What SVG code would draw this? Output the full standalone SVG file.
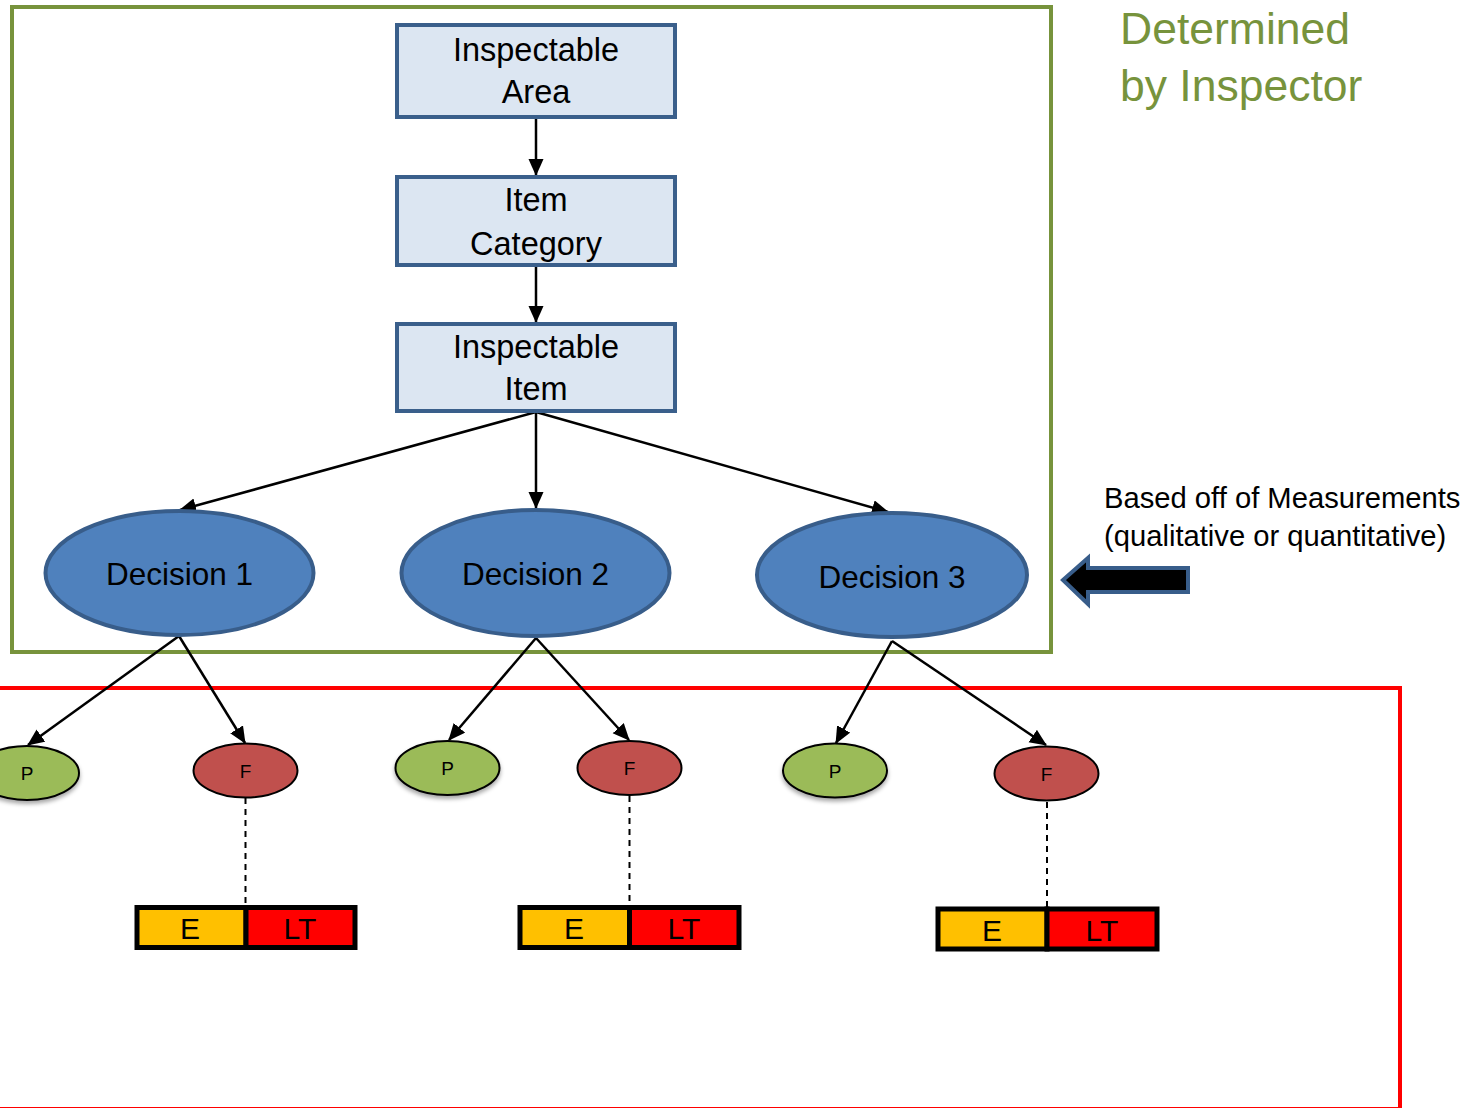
<svg xmlns="http://www.w3.org/2000/svg" width="1470" height="1108" viewBox="0 0 1470 1108">
<style>
text{font-family:"Liberation Sans",Arial,sans-serif;fill:#000;text-anchor:middle}
.box{fill:#DCE6F2;stroke:#3A5F8B;stroke-width:4}
.dec{fill:#4F81BD;stroke:#385D8A;stroke-width:4}
.p{fill:#9BBB59;stroke:#000;stroke-width:2}
.f{fill:#C0504D;stroke:#000;stroke-width:2}
.bt{font-size:32.5px}
.dt{font-size:31.5px}
.st{font-size:19px}
.bar{stroke:#000;stroke-width:5}
.bart{font-size:30px}
.conn{stroke:#000;stroke-width:2.5;fill:none;marker-end:url(#ah)}
.dash{stroke:#000;stroke-width:2;stroke-dasharray:6,5;fill:none}
</style>
<defs>
<marker id="ah" markerUnits="userSpaceOnUse" markerWidth="18" markerHeight="16" refX="16" refY="7.5" orient="auto"><path d="M0,0 L17,7.5 L0,15 z" fill="#000"/></marker>
<filter id="sh" x="-20%" y="-20%" width="140%" height="160%"><feDropShadow dx="0" dy="3" stdDeviation="2" flood-color="#000" flood-opacity="0.35"/></filter>
</defs>
<rect width="1470" height="1108" fill="#fff"/>
<g id="frame-inspector"><rect x="12" y="7" width="1039" height="645" fill="none" stroke="#77933C" stroke-width="4"/></g>
<g id="frame-red"><rect x="-10" y="688" width="1410" height="421" fill="none" stroke="#FF0000" stroke-width="4"/></g>
<g id="label-determined"><text x="1120" y="44" style="font-size:44.5px;fill:#77933C;text-anchor:start">Determined</text><text x="1120" y="101" style="font-size:44.5px;fill:#77933C;text-anchor:start">by Inspector</text></g>
<g id="label-based"><text x="1104" y="508" style="font-size:29.2px;text-anchor:start">Based off of Measurements</text><text x="1104" y="546" style="font-size:29.2px;text-anchor:start">(qualitative or quantitative)</text></g>
<g id="block-arrow"><path d="M1063,580 L1088,558 L1088,568 L1188,568 L1188,592 L1088,592 L1088,604 Z" fill="#000" stroke="#385D8A" stroke-width="4" stroke-linejoin="miter"/></g>
<g id="connectors">
<line class="conn" x1="536" y1="118" x2="536" y2="175"/>
<line class="conn" x1="536" y1="267" x2="536" y2="322"/>
<line class="conn" x1="536" y1="412" x2="180" y2="510"/>
<line class="conn" x1="536" y1="412" x2="536" y2="508"/>
<line class="conn" x1="536" y1="412" x2="888" y2="512"/>
<line class="conn" x1="179" y1="636" x2="28" y2="745"/>
<line class="conn" x1="179" y1="636" x2="245" y2="743"/>
<line class="conn" x1="536" y1="638" x2="449" y2="740"/>
<line class="conn" x1="536" y1="638" x2="629" y2="740"/>
<line class="conn" x1="892" y1="641" x2="836" y2="743"/>
<line class="conn" x1="892" y1="641" x2="1046" y2="745"/>
<line class="dash" x1="245.5" y1="798" x2="245.5" y2="906"/>
<line class="dash" x1="629.5" y1="796" x2="629.5" y2="906"/>
<line class="dash" x1="1047" y1="802" x2="1047" y2="907"/>
</g>
<g id="box-area"><rect class="box" x="397" y="25" width="278" height="92"/><text class="bt" x="536" y="61">Inspectable</text><text class="bt" x="536" y="103">Area</text></g>
<g id="box-category"><rect class="box" x="397" y="177" width="278" height="88"/><text class="bt" x="536" y="211">Item</text><text class="bt" x="536" y="255">Category</text></g>
<g id="box-item"><rect class="box" x="397" y="324" width="278" height="87"/><text class="bt" x="536" y="358">Inspectable</text><text class="bt" x="536" y="400">Item</text></g>
<g id="decision-1"><ellipse class="dec" cx="179.5" cy="573" rx="134" ry="62"/><text class="dt" x="179.5" y="585">Decision 1</text></g>
<g id="decision-2"><ellipse class="dec" cx="535.5" cy="573" rx="134" ry="63"/><text class="dt" x="535.5" y="585">Decision 2</text></g>
<g id="decision-3"><ellipse class="dec" cx="892" cy="575" rx="135" ry="62"/><text class="dt" x="892" y="588">Decision 3</text></g>
<g id="p-1"><ellipse class="p" cx="27" cy="773" rx="52" ry="27" filter="url(#sh)"/><text class="st" x="27" y="780">P</text></g>
<g id="f-1"><ellipse class="f" cx="245.5" cy="770.5" rx="52" ry="27"/><text class="st" x="245.5" y="778">F</text></g>
<g id="p-2"><ellipse class="p" cx="447.5" cy="768" rx="52" ry="27" filter="url(#sh)"/><text class="st" x="447.5" y="775">P</text></g>
<g id="f-2"><ellipse class="f" cx="629.5" cy="768" rx="52" ry="27"/><text class="st" x="629.5" y="775">F</text></g>
<g id="p-3"><ellipse class="p" cx="835" cy="770.5" rx="52" ry="27" filter="url(#sh)"/><text class="st" x="835" y="778">P</text></g>
<g id="f-3"><ellipse class="f" cx="1046.5" cy="773.5" rx="52" ry="27"/><text class="st" x="1046.5" y="781">F</text></g>
<g id="bar-1"><rect class="bar" x="137" y="907.5" width="109" height="40" fill="#FFC000"/><rect class="bar" x="246" y="907.5" width="109" height="40" fill="#FF0000"/><text class="bart" x="190" y="939">E</text><text class="bart" x="300" y="939">LT</text></g>
<g id="bar-2"><rect class="bar" x="520" y="907.5" width="109.5" height="40" fill="#FFC000"/><rect class="bar" x="629.5" y="907.5" width="109.5" height="40" fill="#FF0000"/><text class="bart" x="574" y="939">E</text><text class="bart" x="684" y="939">LT</text></g>
<g id="bar-3"><rect class="bar" x="938" y="909" width="109" height="40" fill="#FFC000"/><rect class="bar" x="1047" y="909" width="110" height="40" fill="#FF0000"/><text class="bart" x="992" y="941">E</text><text class="bart" x="1102" y="941">LT</text></g>
</svg>
